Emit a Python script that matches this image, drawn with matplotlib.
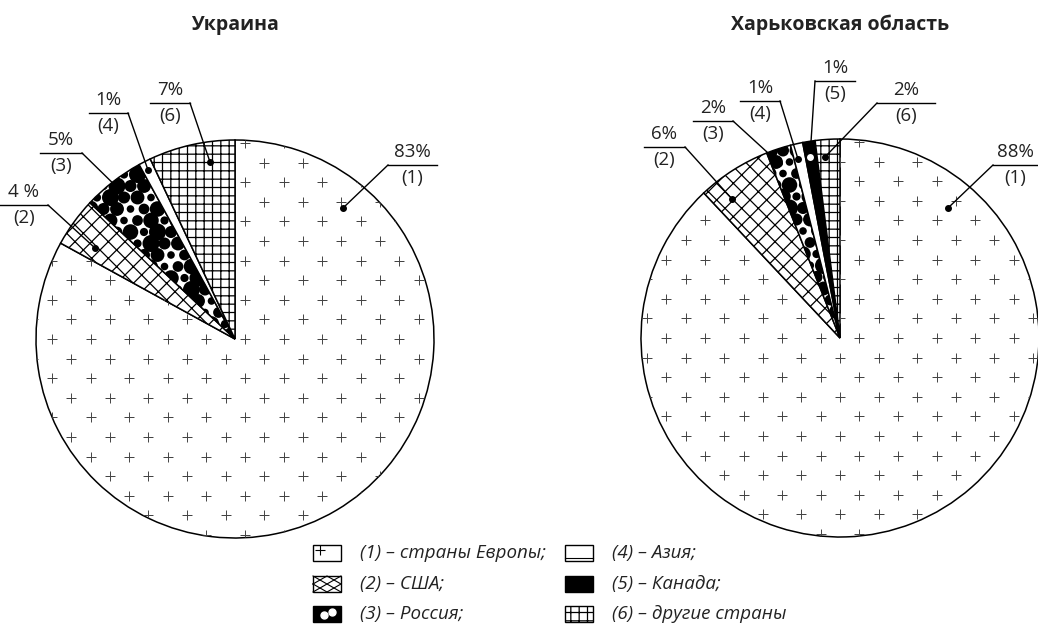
import numpy as np
import matplotlib
matplotlib.use("Agg")
import matplotlib.pyplot as plt
from matplotlib.patches import Rectangle

W, H = 1038, 626
plt.rcParams["font.family"] = ["Open Sans", "DejaVu Sans"]
plt.rcParams["hatch.color"] = "black"
plt.rcParams["hatch.linewidth"] = 0.9

# data
titles = ["Украина", "Харьковская область"]
ukr_ids = [1, 2, 3, 4, 6]
ukr_vals = [83, 4, 5, 1, 7]
ukr_txt = ["83%", "4 %", "5%", "1%", "7%"]
kh_ids = [1, 2, 3, 4, 5, 6]
kh_vals = [88, 6, 2, 1, 1, 2]
kh_txt = ["88%", "6%", "2%", "1%", "1%", "2%"]
legend_labels = ["(1) – страны Европы;", "(2) – США;", "(3) – Россия;",
                 "(4) – Азия;", "(5) – Канада;", "(6) – другие страны"]

# styles per category
face = {1: "white", 2: "white", 3: "white", 4: "white", 5: "black", 6: "white"}
hatch = {1: None, 2: "xx", 3: None, 4: None, 5: None, 6: "++"}

# layout (pixel coords, y down): pie centres / radius, label leaders
centers = [(235, 339), (840, 338)]
R = 199
# line x0, x1, y, connecting end x, dot x, dot y
ukr_lead = [(388, 437, 165, 388, 343, 208), (0, 48, 205, 48, 95, 248),
            (40, 82, 153, 82, 126, 196), (89, 128, 113, 128, 148, 170),
            (150, 190, 103, 190, 210, 162)]
kh_lead = [(993, 1038, 165, 993, 948, 208), (644, 685, 147, 685, 732, 199),
           (693, 733, 121, 733, 779, 163), (740, 780, 101, 780, 798, 159),
           (815, 855, 81, 815, 810, 157), (877, 935, 103, 877, 825, 157)]

fig = plt.figure(figsize=(W / 100, H / 100), dpi=100)
ax = fig.add_axes([0, 0, 1, 1])


def Y(y):
    return H - y


def draw_pie(ids, vals, txts, lead, c, title):
    cx, cy = c
    wedges, _ = ax.pie(vals, startangle=90, counterclock=False,
                       center=(cx, Y(cy)), radius=R, frame=True,
                       colors=[face[i] for i in ids],
                       hatch=[hatch[i] for i in ids],
                       wedgeprops=dict(edgecolor="black", linewidth=1.1))
    for i, w in zip(ids, wedges):
        if i == 1:
            # sparse staggered plus signs
            xs, ys = [], []
            shift = -48 if cx < 500 else 0
            for r, yy in enumerate(np.arange(cy - 19.6 * 11, cy + 19.6 * 11, 19.6)):
                off = 0 if r % 2 == 0 else 19.3
                for xx in np.arange(cx - 38.6 * 7 + off + shift, cx + 38.6 * 7, 38.6):
                    xs.append(xx)
                    ys.append(Y(yy))
            sc = ax.scatter(xs, ys, marker="+", s=50, c="#444444",
                            linewidths=0.7, zorder=3)
            sc.set_clip_path(w)
        if i == 3:
            # black blobs texture
            xs, ys, ss = [], [], []
            k = 0
            for r, yy in enumerate(np.arange(cy - R, cy, 11.5)):
                off = 0 if r % 2 == 0 else 7
                for xx in np.arange(cx - R + off, cx, 13.5):
                    xs.append(xx)
                    ys.append(Y(yy))
                    ss.append([60, 125, 35, 150, 75, 100, 30][k % 7])
                    k += 1
            sc = ax.scatter(xs, ys, s=ss, c="black", linewidths=0, zorder=3)
            sc.set_clip_path(w)
    # label leaders
    for i, t, (x0, x1, ly, xc, dx, dy) in zip(ids, txts, lead):
        ax.plot([x0, x1], [Y(ly), Y(ly)], color="black", lw=1.0, zorder=5)
        ax.plot([xc, dx], [Y(ly), Y(dy)], color="black", lw=1.0, zorder=5)
        if i == 5:
            ax.plot(dx, Y(dy), "o", ms=6, mfc="white", mec="black", mew=1.0, zorder=6)
        else:
            ax.plot(dx, Y(dy), "o", ms=4, color="black", zorder=6)
        xm = (x0 + x1) / 2 if x1 < W else x0 + 22
        ax.text(xm, Y(ly - 4), t, ha="center", va="bottom", fontsize=13.5, color="#222222")
        ax.text(xm, Y(ly + 4), f"({i})", ha="center", va="top", fontsize=13.5, color="#222222")
    ax.text(cx, Y(25), title, ha="center", va="center", fontsize=14,
            fontweight="bold", color="#222222")


draw_pie(ukr_ids, ukr_vals, ukr_txt, ukr_lead, centers[0], titles[0])
draw_pie(kh_ids, kh_vals, kh_txt, kh_lead, centers[1], titles[1])

# legend
leg_ids = [1, 2, 3, 4, 5, 6]
col_x = [313, 565]
row_y = [553, 584, 614]
for n, (i, lab) in enumerate(zip(leg_ids, legend_labels)):
    px = col_x[n // 3]
    py = row_y[n % 3]
    x0, x1, y0, y1 = px, px + 28, Y(py + 8), Y(py - 8)
    rect = Rectangle((x0, y0), 28, 16, facecolor=face[i] if i != 3 else "black",
                     edgecolor="black", linewidth=1.0,
                     hatch=None if i == 2 else hatch[i])
    ax.add_patch(rect)
    if i == 1:
        ax.plot(px + 7, Y(py - 3), "+", ms=7, color="black", mew=0.8)
    if i == 2:
        xm, ym = (x0 + x1) / 2, (y0 + y1) / 2
        ax.plot([x0, x1], [y0, y1], color="black", lw=0.8)
        ax.plot([x0, x1], [y1, y0], color="black", lw=0.8)
        ax.plot([x0, xm, x1, xm, x0], [ym, y1, ym, y0, ym], color="black", lw=0.8)
    if i == 3:
        ax.plot([px + 11, px + 19], [Y(py + 1), Y(py - 2)], "o", ms=5, color="white")
    if i == 4:
        ax.plot([x0, x1], [y0 + 3, y0 + 3], color="black", lw=0.8)
    ax.text(px + 47, Y(py), lab, ha="left", va="center", fontsize=13.5,
            style="italic", color="#222222")

ax.set_xlim(0, W)
ax.set_ylim(0, H)
ax.set_aspect("equal")
ax.axis("off")
fig.savefig("out.png", dpi=100)
